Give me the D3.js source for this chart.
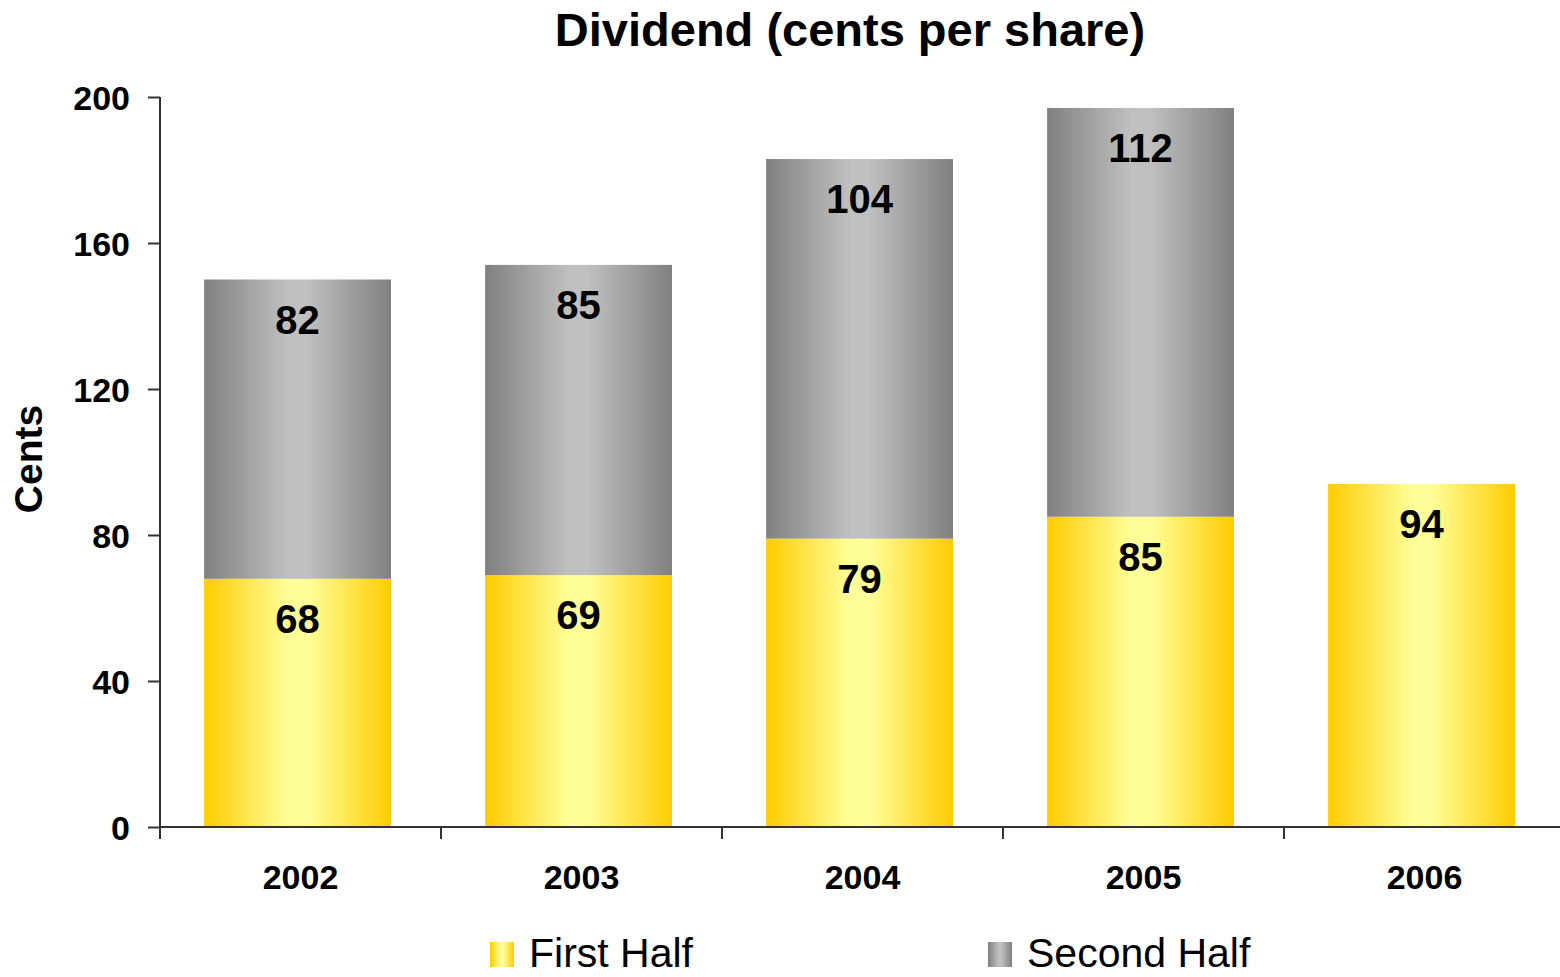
<!DOCTYPE html>
<html>
<head>
<meta charset="utf-8">
<script src="https://cdn.jsdelivr.net/npm/d3@7"></script>
<style>
  body { margin: 0; background: #fff; }
  svg { display: block; font-family: Arial, "Liberation Sans", sans-serif; }
</style>
</head>
<body>
<div id="content"></div>
<script>
var width = 1560;
var height = 977;

var years = ['2002', '2003', '2004', '2005', '2006'];
var firstHalf = [68, 69, 79, 85, 94];
var secondHalf = [82, 85, 104, 112, null];
var yTicks = [0, 40, 80, 120, 160, 200];

var margin = {top: 97, right: -5, bottom: 150, left: 160};

var svg = d3.select('div#content').append('svg')
    .attr('width', width)
    .attr('height', height);

var defs = svg.append('defs');

function addGradient(id, dark, light) {
    var g = defs.append('linearGradient')
        .attr('id', id)
        .attr('x1', '0%').attr('x2', '100%')
        .attr('y1', '0%').attr('y2', '0%');
    g.append('stop').attr('offset', '0%').attr('stop-color', dark);
    g.append('stop').attr('offset', '45%').attr('stop-color', light);
    g.append('stop').attr('offset', '55%').attr('stop-color', light);
    g.append('stop').attr('offset', '100%').attr('stop-color', dark);
}
addGradient('gradFirst', '#ffcc00', '#ffff99');
addGradient('gradSecond', '#808080', '#c0c0c0');

var x = d3.scaleBand()
    .domain(years)
    .range([margin.left, width - margin.right])
    .padding(0);

var y = d3.scaleLinear()
    .domain([0, 200])
    .range([height - margin.bottom, margin.top]);

var barW = x.bandwidth() * 0.665;
var barOff = x.bandwidth() * 0.157;

var rows = years.map(function(d, i) {
    return {year: d, first: firstHalf[i], second: secondHalf[i]};
});

var bars = svg.append('g').selectAll('g')
    .data(rows).enter()
    .append('g')
        .attr('transform', function(d) {
            return 'translate(' + (x(d.year) + barOff) + ',0)';
        });

bars.append('rect')
    .attr('x', 0)
    .attr('width', barW)
    .attr('y', function(d) { return y(d.first); })
    .attr('height', function(d) { return y(0) - y(d.first); })
    .attr('fill', 'url(#gradFirst)');

bars.filter(function(d) { return d.second != null; })
    .append('rect')
    .attr('x', 0)
    .attr('width', barW)
    .attr('y', function(d) { return y(d.first + d.second); })
    .attr('height', function(d) { return y(d.first) - y(d.first + d.second); })
    .attr('fill', 'url(#gradSecond)');

bars.append('text')
    .attr('x', barW / 2)
    .attr('y', function(d) { return y(d.first) + 54; })
    .attr('text-anchor', 'middle')
    .style('font-size', '40px')
    .style('font-weight', 'bold')
    .text(function(d) { return d.first; });

bars.filter(function(d) { return d.second != null; })
    .append('text')
    .attr('x', barW / 2)
    .attr('y', function(d) { return y(d.first + d.second) + 54; })
    .attr('text-anchor', 'middle')
    .style('font-size', '40px')
    .style('font-weight', 'bold')
    .text(function(d) { return d.second; });

// axes
var yAxis = svg.append('g')
    .attr('transform', 'translate(' + margin.left + ',0)')
    .call(d3.axisLeft(y).tickValues(yTicks).tickSize(12).tickPadding(18));

var xAxis = svg.append('g')
    .attr('transform', 'translate(0,' + y(0) + ')')
    .call(d3.axisBottom(x).tickSize(0).tickPadding(38));

// category boundary ticks
xAxis.selectAll('.bound')
    .data(years).enter()
    .append('line')
        .attr('class', 'bound')
        .attr('x1', function(d) { return x(d); })
        .attr('x2', function(d) { return x(d); })
        .attr('y1', 0)
        .attr('y2', 12);

svg.selectAll('.domain, .tick line, .bound')
    .attr('stroke', '#333')
    .attr('stroke-width', 2);
xAxis.select('.domain').attr('d', 'M' + margin.left + ',0H' + (width - margin.right));
yAxis.select('.domain').attr('d', 'M0,' + y(200) + 'V' + y(0));

svg.selectAll('.tick text')
    .attr('fill', '#000')
    .style('font-size', '34px')
    .style('font-weight', 'bold')
    .style('font-family', 'Arial, "Liberation Sans", sans-serif');
yAxis.selectAll('.tick text').attr('dy', '0.36em');

// title
svg.append('text')
    .attr('x', 850)
    .attr('y', 46)
    .attr('text-anchor', 'middle')
    .style('font-size', '47px')
    .style('font-weight', 'bold')
    .text('Dividend (cents per share)');

svg.append('text')
    .attr('transform', 'translate(42,459) rotate(-90)')
    .attr('text-anchor', 'middle')
    .style('font-size', '39px')
    .style('font-weight', 'bold')
    .text('Cents');

// legend
var legendItems = [
    {label: 'First Half', fill: 'url(#gradFirst)', x: 490},
    {label: 'Second Half', fill: 'url(#gradSecond)', x: 988}
];
var legend = svg.append('g').selectAll('g')
    .data(legendItems).enter()
    .append('g')
        .attr('transform', function(d) { return 'translate(' + d.x + ',942)'; });
legend.append('rect')
    .attr('width', 24)
    .attr('height', 25)
    .attr('fill', function(d) { return d.fill; });
legend.append('text')
    .attr('x', 39)
    .attr('y', 25)
    .style('font-size', '41px')
    .text(function(d) { return d.label; });
</script>
</body>
</html>
